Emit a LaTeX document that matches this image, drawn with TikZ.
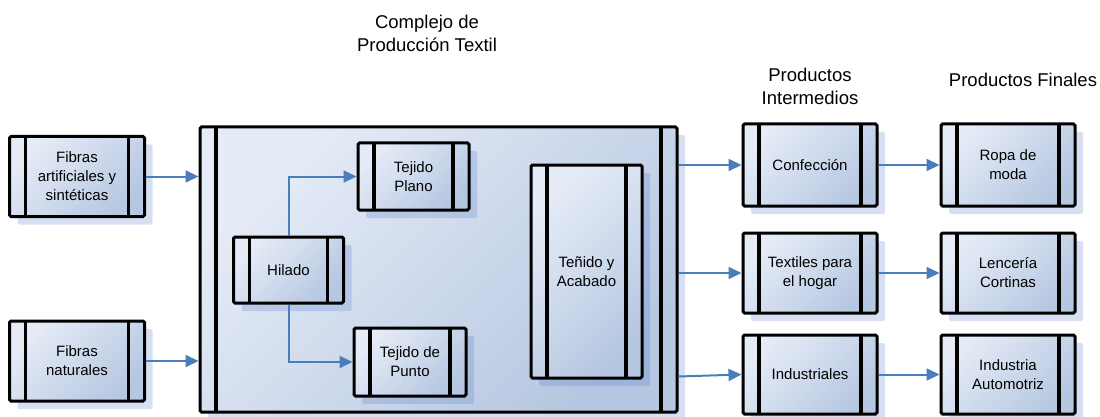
\documentclass[tikz,border=0pt]{standalone}
\usepackage{fontspec}
\setmainfont{Liberation Sans}
\usetikzlibrary{arrows.meta,shadows}
\definecolor{boxlight}{HTML}{E6ECF7}
\definecolor{boxdark}{HTML}{B6C7E1}
\definecolor{shadowc}{HTML}{4472C4}
\definecolor{arrowc}{HTML}{4A7EBB}
\tikzset{
  pbox/.style={draw=black, line width=3pt, rounded corners=1.5pt,
    top color=boxlight, bottom color=boxdark, shading angle=45,
    inner sep=0pt, align=center,
    font=\fontsize{15}{19}\selectfont,
    drop shadow={shadow xshift=8pt, shadow yshift=-8pt, fill=shadowc, opacity=0.22},
    path picture={
      \draw[line width=3.4pt]
        ([xshift=16pt]path picture bounding box.north west) --
        ([xshift=16pt]path picture bounding box.south west);
      \draw[line width=3.4pt]
        ([xshift=-16pt]path picture bounding box.north east) --
        ([xshift=-16pt]path picture bounding box.south east);
    }},
  arr/.style={draw=arrowc, line width=2pt, -{Triangle[length=13pt,width=12pt]}},
  title/.style={align=center, font=\fontsize{18.5}{23}\selectfont, inner sep=0pt}
}
\begin{document}
\begin{tikzpicture}[x=1pt,y=-1pt]
\useasboundingbox (0,0) rectangle (1100,417);
% titles
\node[title] (t1) at (427,33) {Complejo de\\Producción Textil};
\node[title] (t2) at (810,86) {Productos\\Intermedios};
\node[title] (t3) at (1023,80) {Productos Finales};
% big box
\node[pbox, minimum width=477pt, minimum height=285pt] (cpt) at (438.5,269.5) {};
% inputs
\node[pbox, minimum width=135pt, minimum height=80pt] (fa) at (77,176.5) {Fibras\\artificiales y\\sintéticas};
\node[pbox, minimum width=135pt, minimum height=80pt] (fn) at (77,361) {Fibras\\naturales};
% inner
\node[pbox, minimum width=111pt, minimum height=67pt] (tp) at (413.5,176.5) {Tejido\\Plano};
\node[pbox, minimum width=110pt, minimum height=66pt] (hil) at (288.5,270) {Hilado};
\node[pbox, minimum width=112pt, minimum height=68pt] (tpu) at (410,362) {Tejido de\\Punto};
\node[pbox, minimum width=111pt, minimum height=213pt] (ta) at (586.5,271.5) {Teñido y\\Acabado};
% intermediates
\node[pbox, minimum width=134pt, minimum height=82pt] (conf) at (810,165) {Confección};
\node[pbox, minimum width=134pt, minimum height=80pt] (tex) at (810,273) {Textiles para\\el hogar};
\node[pbox, minimum width=134pt, minimum height=79pt] (ind) at (810,374.5) {Industriales};
% finals
\node[pbox, minimum width=134pt, minimum height=82pt] (ropa) at (1008,165) {Ropa de\\moda};
\node[pbox, minimum width=134pt, minimum height=80pt] (len) at (1008,273) {Lencería\\Cortinas};
\node[pbox, minimum width=134pt, minimum height=79pt] (ia) at (1008,374.5) {Industria\\Automotriz};
% connectors
\draw[arr] (fa.east) -- (fa.east -| cpt.west);
\draw[arr] (fn.east) -- (fn.east -| cpt.west);
\draw[arr] (hil.north) |- (tp.west);
\draw[arr] (hil.south) |- (tpu.west);
\draw[arr] (conf.west -| cpt.east) -- (conf.west);
\draw[arr] (tex.west -| cpt.east) -- (tex.west);
\draw[arr] ([yshift=-2pt]ind.west -| cpt.east) -- (ind.west);
\draw[arr] (conf.east) -- (ropa.west);
\draw[arr] (tex.east) -- (len.west);
\draw[arr] (ind.east) -- (ia.west);
\end{tikzpicture}
\end{document}
